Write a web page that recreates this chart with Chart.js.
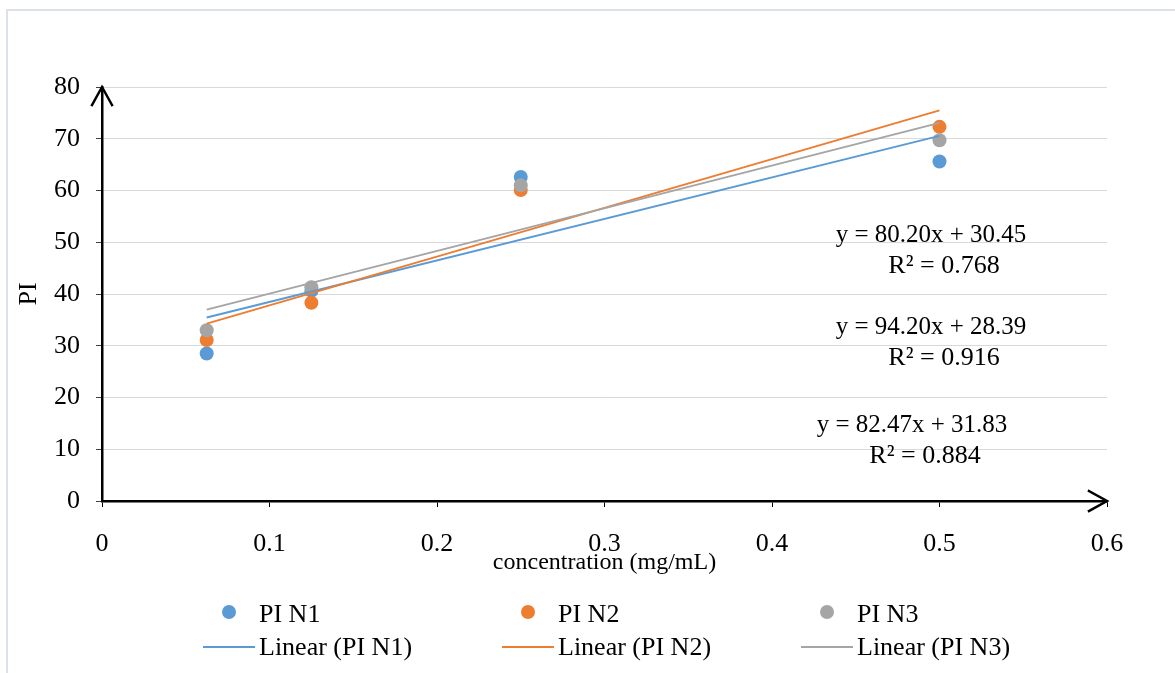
<!DOCTYPE html>
<html>
<head>
<meta charset="utf-8">
<script src="https://cdn.jsdelivr.net/npm/chart.js@4.4.1/dist/chart.umd.min.js"></script>
<style>
	html, body { margin: 0; padding: 0; background: #fff; }
	canvas { display: block; }
</style>
</head>
<body>
<canvas id="chart" width="1175" height="673"></canvas>
<script>
'use strict';

// values
var concentrations = [0.0625, 0.125, 0.25, 0.5];
var piN1 = [28.5, 40.6, 62.6, 65.6];
var piN2 = [31.1, 38.3, 60.1, 72.3];
var piN3 = [33.0, 41.3, 61.0, 69.7];

var seriesNames = ['PI N1', 'PI N2', 'PI N3'];
var seriesColors = ['#5b9bd5', '#ed7d31', '#a5a5a5'];

// trendline coefficients as printed on the chart
var slopes = [80.20, 94.20, 82.47];
var intercepts = [30.45, 28.39, 31.83];
var rSquared = ['0.768', '0.916', '0.884'];

var xMin = 0, xMax = 0.6, xStep = 0.1;
var yMin = 0, yMax = 80, yStep = 10;

var FONT = "'Times New Roman', 'Liberation Serif', serif";

function points( ys ) {
	var out = [];
	for( var i = 0; i < concentrations.length; i++ ) {
		out.push({ x: concentrations[i], y: ys[i] });
	}
	return out;
}

function trend( i ) {
	var x0 = concentrations[0];
	var x1 = concentrations[concentrations.length - 1];
	return [
		{ x: x0, y: slopes[i] * x0 + intercepts[i] },
		{ x: x1, y: slopes[i] * x1 + intercepts[i] }
	];
}

var allSeries = [piN1, piN2, piN3];
var datasets = [];

for( var i = 0; i < 3; i++ ) {
	datasets.push({
		label: seriesNames[i],
		type: 'scatter',
		data: points( allSeries[i] ),
		backgroundColor: seriesColors[i],
		borderColor: seriesColors[i],
		pointRadius: 7,
		pointBorderWidth: 0,
		order: 6 - i
	});
}
for( var j = 0; j < 3; j++ ) {
	datasets.push({
		label: 'Linear (' + seriesNames[j] + ')',
		type: 'line',
		data: trend( j ),
		borderColor: seriesColors[j],
		borderWidth: 2,
		pointRadius: 0,
		fill: false,
		order: 3 - j
	});
}

// light frame round the whole chart
var framePlugin = {
	id: 'frame',
	beforeDraw: function( chart ) {
		var ctx = chart.ctx;
		ctx.save();
		ctx.fillStyle = '#fff';
		ctx.fillRect( 0, 0, chart.width, chart.height );
		ctx.strokeStyle = '#dde1e8';
		ctx.lineWidth = 2;
		ctx.strokeRect( 7, 10, chart.width + 20, chart.height + 20 );
		ctx.restore();
	}
};

// arrow heads at the ends of both axes
var arrowPlugin = {
	id: 'arrows',
	afterDraw: function( chart ) {
		var a = chart.chartArea;
		var ctx = chart.ctx;
		ctx.save();
		ctx.strokeStyle = '#000';
		ctx.lineWidth = 2.5;
		ctx.lineCap = 'square';
		ctx.beginPath();
		ctx.moveTo( a.left - 10, a.top + 18 );
		ctx.lineTo( a.left, a.top );
		ctx.lineTo( a.left + 10, a.top + 18 );
		ctx.moveTo( a.right - 18, a.bottom - 10 );
		ctx.lineTo( a.right, a.bottom );
		ctx.lineTo( a.right - 18, a.bottom + 10 );
		ctx.stroke();
		ctx.restore();
	}
};

// regression equations next to the lines
var equationPlugin = {
	id: 'equations',
	afterDatasetsDraw: function( chart ) {
		var ctx = chart.ctx;
		var spots = [
			{ x: 931, y: 242 },
			{ x: 931, y: 334 },
			{ x: 912, y: 432 }
		];
		ctx.save();
		ctx.fillStyle = '#000';
		ctx.textAlign = 'center';
		ctx.textBaseline = 'alphabetic';
		for( var k = 0; k < 3; k++ ) {
			var eq = 'y = ' + slopes[k].toFixed(2) + 'x + ' + intercepts[k].toFixed(2);
			ctx.font = '25px ' + FONT;
			ctx.fillText( eq, spots[k].x, spots[k].y );
			ctx.font = '26px ' + FONT;
			ctx.fillText( 'R\u00b2 = ' + rSquared[k], spots[k].x + 13, spots[k].y + 31 );
		}
		ctx.restore();
	}
};

// two-row legend like the original: markers on top, trendlines below
var legendPlugin = {
	id: 'legendRows',
	afterDraw: function( chart ) {
		var ctx = chart.ctx;
		var cols = [203, 502, 801];
		ctx.save();
		ctx.font = '26px ' + FONT;
		ctx.textAlign = 'left';
		ctx.textBaseline = 'alphabetic';
		for( var k = 0; k < 3; k++ ) {
			var c = cols[k];
			var dot = chart.data.datasets[k];
			var line = chart.data.datasets[k + 3];
			ctx.fillStyle = dot.backgroundColor;
			ctx.beginPath();
			ctx.arc( c + 26, 612, 7, 0, Math.PI * 2 );
			ctx.fill();
			ctx.fillStyle = '#000';
			ctx.fillText( dot.label, c + 56, 622 );

			ctx.strokeStyle = line.borderColor;
			ctx.lineWidth = 2;
			ctx.beginPath();
			ctx.moveTo( c, 647 );
			ctx.lineTo( c + 52, 647 );
			ctx.stroke();
			ctx.fillStyle = '#000';
			ctx.fillText( line.label, c + 56, 655 );
		}
		ctx.restore();
	}
};

var config = {
	type: 'scatter',
	data: { datasets: datasets },
	options: {
		responsive: false,
		animation: false,
		layout: { padding: { left: 0, top: 87, right: 68, bottom: 0 } },
		plugins: {
			legend: { display: false },
			tooltip: { enabled: false }
		},
		scales: {
			x: {
				type: 'linear',
				min: xMin,
				max: xMax,
				ticks: {
					stepSize: xStep,
					color: '#000',
					padding: 22,
					font: { family: FONT, size: 26 },
					callback: function( v ) { return Math.round( v * 10 ) / 10; }
				},
				grid: { display: true, drawOnChartArea: false, drawTicks: true, tickLength: 6, tickColor: '#000' },
				border: { display: true, color: '#000', width: 2.5 },
				title: {
					display: true,
					text: 'concentration (mg/mL)',
					color: '#000',
					font: { family: FONT, size: 24 },
					padding: { top: 0, bottom: 96 }
				},
				afterFit: function( s ) { s.height = 172; }
			},
			y: {
				min: yMin,
				max: yMax,
				ticks: {
					stepSize: yStep,
					color: '#000',
					padding: 16,
					font: { family: FONT, size: 26 }
				},
				grid: { color: '#d9d9d9', lineWidth: 1, drawTicks: true, tickLength: 6, tickColor: '#404040' },
				border: { display: true, color: '#000', width: 2.5 },
				title: {
					display: true,
					text: 'PI',
					color: '#000',
					font: { family: FONT, size: 26 },
					padding: { top: 14, bottom: 0 }
				},
				afterFit: function( s ) { s.width = 102; }
			}
		}
	},
	plugins: [ framePlugin, equationPlugin, arrowPlugin, legendPlugin ]
};

window.piChart = new Chart( document.getElementById('chart').getContext('2d'), config );
</script>
</body>
</html>
